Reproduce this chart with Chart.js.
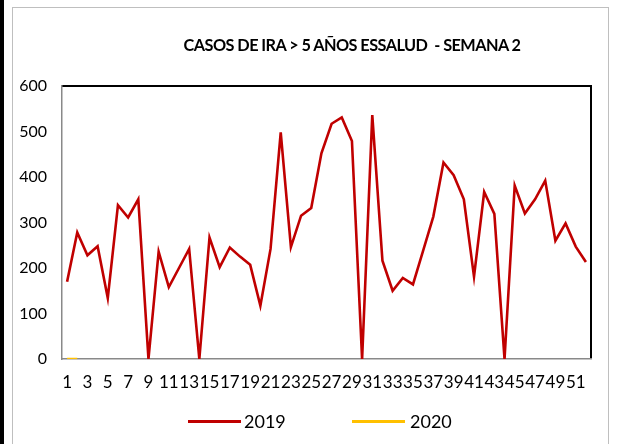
<!DOCTYPE html>
<html><head><meta charset="utf-8">
<script src="https://cdn.jsdelivr.net/npm/chart.js@4/dist/chart.umd.min.js"></script>
<style>
html,body{margin:0;padding:0;background:#fff;}
#wrap{position:relative;width:617px;height:444px;overflow:hidden;font-family:Lato,"Open Sans",sans-serif;color:#000;}
#band{position:absolute;left:0;top:0;width:4px;height:444px;background:#000;}
#frame{position:absolute;left:12px;top:7px;width:597px;height:460px;border:1px solid #BFBFBF;border-bottom:none;box-sizing:border-box;}
canvas{position:absolute;left:0;top:0;}
#title{position:absolute;left:152px;top:35px;width:400px;text-align:center;font-weight:700;font-size:16.3px;letter-spacing:-0.55px;line-height:20px;white-space:pre;}
.lg-line{position:absolute;height:3px;top:420px;}
.lg-text{position:absolute;top:410px;font-size:18px;line-height:22px;}
</style>
</head><body>
<div id="wrap">
  <div id="band"></div>
  <div id="frame"></div>
  <canvas id="c" width="617" height="444"></canvas>
  <div id="title"></div>
  <div id="legend"></div>
</div>
<script>
const chartTitle = "CASOS DE IRA > 5 AÑOS ESSALUD  - SEMANA 2";
const weeks = ["1","2","3","4","5","6","7","8","9","10","11","12","13","14","15","16","17","18","19","20","21","22","23","24","25","26","27","28","29","30","31","32","33","34","35","36","37","38","39","40","41","42","43","44","45","46","47","48","49","50","51","52"];
const series2019 = [170,278,228,248,134,338,311,351,0,236,158,200,242,0,267,202,245,225,207,117,242,498,246,315,332,452,517,531,479,0,536,216,150,178,164,238,313,432,404,351,181,367,319,0,381,320,351,392,260,298,247,213];
const series2020 = [0,0];
const seriesNames = ["2019","2020"];
const seriesColors = ["#C00000","#FFC000"];
const yTicks = [0,100,200,300,400,500,600];

document.getElementById('title').textContent = chartTitle;

// legend (HTML)
const legendPos = [{line:188, text:244},{line:352, text:410}];
const lg = document.getElementById('legend');
seriesNames.forEach((n,i)=>{
  const l = document.createElement('div');
  l.className='lg-line'; l.style.left=legendPos[i].line+'px'; l.style.width='53px'; l.style.background=seriesColors[i];
  lg.appendChild(l);
  const t = document.createElement('div');
  t.className='lg-text'; t.style.left=legendPos[i].text+'px'; t.textContent=n;
  lg.appendChild(t);
});

const plotFrame = {
  id:'plotFrame',
  beforeDraw(chart){
    const {ctx, chartArea:a} = chart;
    ctx.save();
    ctx.strokeStyle='#000'; ctx.lineWidth=2;
    ctx.beginPath();
    ctx.moveTo(a.left, a.top); ctx.lineTo(a.right, a.top); ctx.lineTo(a.right, a.bottom);
    ctx.stroke();
    ctx.restore();
  }
};

const yFont = {family:'Lato, "Open Sans", sans-serif', size:16};
const xFont = {family:'Lato, "Open Sans", sans-serif', size:17};

new Chart(document.getElementById('c'), {
  type:'line',
  data:{
    labels: weeks,
    datasets:[
      {label:seriesNames[0], data:series2019, borderColor:seriesColors[0], backgroundColor:seriesColors[0], borderWidth:2.6, pointRadius:0, tension:0},
      {label:seriesNames[1], data:series2020, borderColor:seriesColors[1], backgroundColor:seriesColors[1], borderWidth:2.6, pointRadius:0, tension:0}
    ]
  },
  options:{
    responsive:false,
    animation:false,
    layout:{padding:{left:0,right:26,top:86,bottom:0}},
    plugins:{legend:{display:false}, title:{display:false}, tooltip:{enabled:false}},
    scales:{
      x:{
        type:'category', offset:true,
        grid:{display:false, drawTicks:false},
        border:{display:true, color:'#898989', width:1.5},
        ticks:{color:'#000', font:xFont, autoSkip:false, maxRotation:0, minRotation:0, padding:13,
          callback:function(v,i){ return i%2===0 ? weeks[i] : ''; }},
        afterFit(s){ s.height = 85; }
      },
      y:{
        min:0, max:600,
        afterBuildTicks(s){ s.ticks = yTicks.map(v=>({value:v})); },
        grid:{display:false, drawTicks:false},
        border:{display:true, color:'#898989', width:1.5},
        ticks:{color:'#000', font:yFont, padding:15},
        afterFit(s){ s.width = 62; }
      }
    }
  },
  plugins:[plotFrame]
});
</script>
</body></html>
